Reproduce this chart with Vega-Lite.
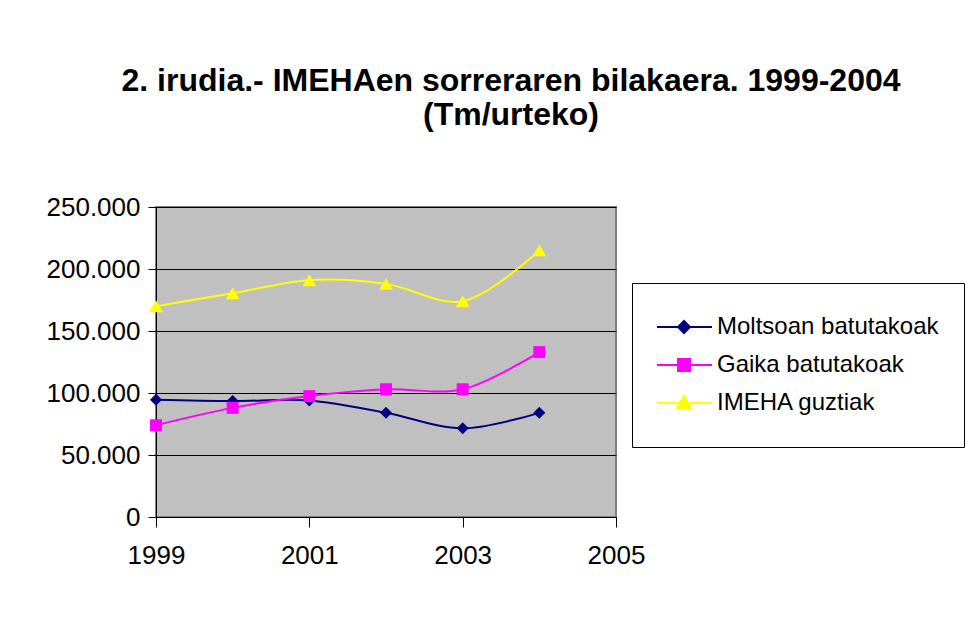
{
  "$schema": "https://vega.github.io/schema/vega-lite/v6.json",
  "width": 460,
  "height": 310,
  "autosize": {"type": "none"},
  "padding": {"left": 156, "top": 207, "right": 362, "bottom": 112},
  "background": "white",
  "title": {
    "text": ["2. irudia.- IMEHAen sorreraren bilakaera. 1999-2004", "(Tm/urteko)"],
    "anchor": "middle",
    "dx": 125,
    "offset": 30,
    "baseline": "bottom",
    "font": "Liberation Sans",
    "fontSize": 32,
    "fontWeight": "bold",
    "lineHeight": 34,
    "color": "black"
  },
  "config": {
    "locale": {"number": {"decimal": ",", "thousands": ".", "grouping": [3], "currency": ["", ""]}},
    "view": {"fill": "#C0C0C0", "stroke": "#808080", "strokeWidth": 2},
    "font": "Liberation Sans"
  },
  "data": {
    "values": [
      {"year": 1999, "series": "Moltsoan batutakoak", "value": 94500},
      {"year": 2000, "series": "Moltsoan batutakoak", "value": 93500},
      {"year": 2001, "series": "Moltsoan batutakoak", "value": 94000},
      {"year": 2002, "series": "Moltsoan batutakoak", "value": 84000},
      {"year": 2003, "series": "Moltsoan batutakoak", "value": 71500},
      {"year": 2004, "series": "Moltsoan batutakoak", "value": 84000},
      {"year": 1999, "series": "Gaika batutakoak", "value": 74000},
      {"year": 2000, "series": "Gaika batutakoak", "value": 88000},
      {"year": 2001, "series": "Gaika batutakoak", "value": 97500},
      {"year": 2002, "series": "Gaika batutakoak", "value": 103000},
      {"year": 2003, "series": "Gaika batutakoak", "value": 103000},
      {"year": 2004, "series": "Gaika batutakoak", "value": 133000},
      {"year": 1999, "series": "IMEHA guztiak", "value": 170000},
      {"year": 2000, "series": "IMEHA guztiak", "value": 180500},
      {"year": 2001, "series": "IMEHA guztiak", "value": 191000},
      {"year": 2002, "series": "IMEHA guztiak", "value": 188000},
      {"year": 2003, "series": "IMEHA guztiak", "value": 174000},
      {"year": 2004, "series": "IMEHA guztiak", "value": 215000}
    ]
  },
  "encoding": {
    "x": {
      "field": "year", "type": "quantitative",
      "scale": {"domain": [1999, 2005], "nice": false, "zero": false},
      "axis": {
        "title": null, "values": [1999, 2001, 2003, 2005], "format": "d",
        "grid": false, "domainColor": "black", "domainWidth": 1,
        "tickColor": "black", "tickSize": 10, "labelFontSize": 26, "labelColor": "black",
        "labelPadding": 15, "labelFont": "Liberation Sans", "labelOverlap": false, "labelFlush": false
      }
    },
    "y": {
      "field": "value", "type": "quantitative",
      "scale": {"domain": [0, 250000], "nice": false},
      "axis": {
        "title": null, "values": [0, 50000, 100000, 150000, 200000, 250000], "format": ",d",
        "grid": true, "gridColor": "black", "gridWidth": 1, "gridOpacity": 1,
        "domainColor": "black", "domainWidth": 1,
        "tickColor": "black", "tickSize": 8, "labelFontSize": 26, "labelColor": "black",
        "labelPadding": 8, "labelFont": "Liberation Sans", "labelOverlap": false, "labelFlush": false
      }
    },
    "color": {
      "field": "series", "type": "nominal",
      "scale": {"domain": ["Moltsoan batutakoak", "Gaika batutakoak", "IMEHA guztiak"], "range": ["#000080", "#FF00FF", "#FFFF00"]},
      "legend": {
        "title": null,
        "orient": "none",
        "legendX": 476,
        "legendY": 76,
        "fillColor": "white",
        "strokeColor": "black",
        "padding": 25,
        "rowPadding": 0,
        "clipHeight": 38,
        "labelFontSize": 24,
        "labelFont": "Liberation Sans",
        "labelColor": "black",
        "labelLimit": 400,
        "labelOffset": 21,
        "symbolOffset": 15,
        "symbolSize": 144,
        "symbolStrokeWidth": 2,
        "encode": {
          "symbols": {
            "update": {
              "shape": {"signal": "datum.value === 'Moltsoan batutakoak' ? 'M-4.67,0L4.67,0M0,-1L1,0L0,1L-1,0Z' : datum.value === 'Gaika batutakoak' ? 'M-4.67,0L4.67,0M-1,-1L1,-1L1,1L-1,1Z' : 'M-4.67,0L4.67,0M0,-1.15L1.15,0.85L-1.15,0.85Z'"},
              "fill": {"signal": "datum.value === 'Moltsoan batutakoak' ? '#000080' : datum.value === 'Gaika batutakoak' ? '#FF00FF' : '#FFFF00'"},
              "stroke": {"signal": "datum.value === 'Moltsoan batutakoak' ? '#000080' : datum.value === 'Gaika batutakoak' ? '#FF00FF' : '#FFFF00'"},
              "strokeWidth": {"value": 2},
              "size": {"value": 144},
              "opacity": {"value": 1},
              "fillOpacity": {"value": 1},
              "strokeOpacity": {"value": 1}
            }
          }
        }
      }
    }
  },
  "layer": [
    {
      "mark": {"type": "line", "interpolate": "catmull-rom", "strokeWidth": 2}
    },
    {
      "transform": [{"filter": "datum.series === 'Moltsoan batutakoak'"}],
      "mark": {"type": "point", "filled": true, "opacity": 1, "shape": "diamond", "size": 144}
    },
    {
      "transform": [{"filter": "datum.series === 'Gaika batutakoak'"}],
      "mark": {"type": "point", "filled": true, "opacity": 1, "shape": "square", "size": 144}
    },
    {
      "transform": [{"filter": "datum.series === 'IMEHA guztiak'"}],
      "mark": {"type": "point", "filled": true, "opacity": 1, "shape": "triangle-up", "size": 190}
    }
  ]
}
